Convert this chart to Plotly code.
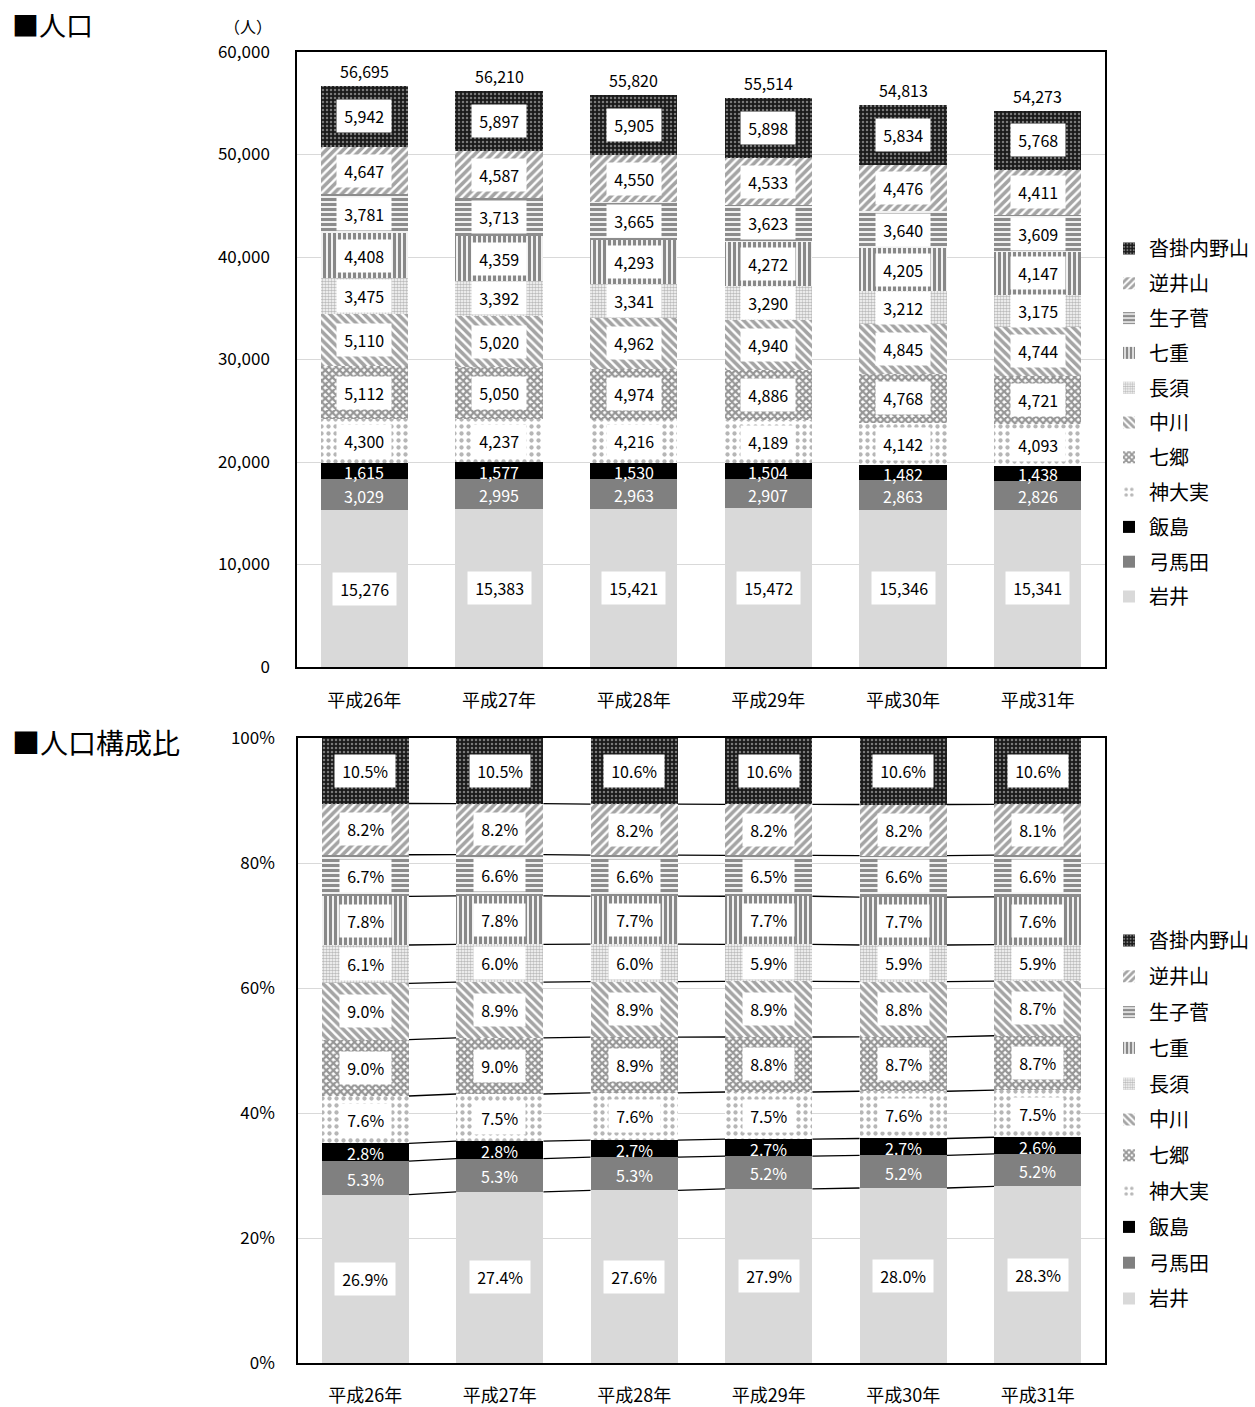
import plotly.graph_objects as go

# ---- data -------------------------------------------------------------
years = ["平成26年", "平成27年", "平成28年", "平成29年", "平成30年", "平成31年"]
districts = ["岩井", "弓馬田", "飯島", "神大実", "七郷", "中川", "長須", "七重", "生子菅", "逆井山", "沓掛内野山"]

iwai = [15276, 15383, 15421, 15472, 15346, 15341]
yumata = [3029, 2995, 2963, 2907, 2863, 2826]
iijima = [1615, 1577, 1530, 1504, 1482, 1438]
kamiomi = [4300, 4237, 4216, 4189, 4142, 4093]
nanasato = [5112, 5050, 4974, 4886, 4768, 4721]
nakagawa = [5110, 5020, 4962, 4940, 4845, 4744]
nagasu = [3475, 3392, 3341, 3290, 3212, 3175]
nanae = [4408, 4359, 4293, 4272, 4205, 4147]
namasuga = [3781, 3713, 3665, 3623, 3640, 3609]
sakasaiyama = [4647, 4587, 4550, 4533, 4476, 4411]
kutsukake = [5942, 5897, 5905, 5898, 5834, 5768]

series = [iwai, yumata, iijima, kamiomi, nanasato, nakagawa,
          nagasu, nanae, namasuga, sakasaiyama, kutsukake]

# ---- styling ----------------------------------------------------------
FONT = "Noto Sans CJK JP"
styles = [
    dict(color="#d9d9d9"),
    dict(color="#808080"),
    dict(color="#000000"),
    dict(color="white", pattern=dict(shape=".", fgcolor="#6e6e6e", bgcolor="white", size=7, solidity=0.3)),
    dict(color="white", pattern=dict(shape="x", fgcolor="#2e2e2e", bgcolor="white", size=5, solidity=0.7)),
    dict(color="white", pattern=dict(shape="\\", fgcolor="#4a4a4a", bgcolor="white", size=6, solidity=0.6)),
    dict(color="white", pattern=dict(shape=".", fgcolor="#7a7a7a", bgcolor="white", size=3, solidity=0.6)),
    dict(color="white", pattern=dict(shape="|", fgcolor="#111111", bgcolor="white", size=5, solidity=0.65)),
    dict(color="white", pattern=dict(shape="-", fgcolor="#1a1a1a", bgcolor="white", size=5, solidity=0.65)),
    dict(color="white", pattern=dict(shape="/", fgcolor="#4a4a4a", bgcolor="white", size=6, solidity=0.6)),
    dict(color="#1a1a1a", pattern=dict(shape=".", fgcolor="#d8d8d8", bgcolor="#1a1a1a", size=4, solidity=0.3)),
]
solid_dark = {1, 2}  # labels drawn in white without a box
PAD = "\u2009"

xs = list(range(len(years)))
BAR_W = 0.65
totals = [sum(s[i] for s in series) for i in xs]
shares = [[s[i] / totals[i] * 100 for i in xs] for s in series]

fig = go.Figure()
annotations = []

def add_stack(values_list, xaxis, yaxis, legend, fmt):
    cum = [0.0] * len(xs)
    bases = []
    for k, (name, vals) in enumerate(zip(districts, values_list)):
        fig.add_trace(go.Bar(
            x=xs, y=vals, name=name, width=BAR_W,
            marker=dict(line=dict(width=0), **styles[k]),
            xaxis=xaxis, yaxis=yaxis, legend=legend, legendgroup=f"{legend}-{k}",
            legendrank=100 - k, hoverinfo="skip",
        ))
        bases.append(list(cum))
        for i in xs:
            mid = cum[i] + vals[i] / 2
            txt = fmt(vals[i])
            if k in solid_dark:
                annotations.append(dict(
                    x=i, y=mid, xref=xaxis, yref=yaxis, text=txt, showarrow=False,
                    yshift=-1, font=dict(family=FONT, size=16, color="white")))
            else:
                annotations.append(dict(
                    x=i, y=mid, xref=xaxis, yref=yaxis, text=PAD + txt + PAD, showarrow=False,
                    font=dict(family=FONT, size=16, color="black"),
                    bgcolor="white", borderpad=4))
            cum[i] += vals[i]
    return bases, cum

# population (absolute)
add_stack(series, "x", "y", "legend", lambda v: f"{v:,}")
for i in xs:
    annotations.append(dict(
        x=i, y=totals[i], xref="x", yref="y", text=f"{totals[i]:,}", showarrow=False,
        yanchor="bottom", yshift=1, font=dict(family=FONT, size=16, color="black")))

# composition (share)
bases, _ = add_stack(shares, "x2", "y2", "legend2", lambda v: f"{v:.1f}%")

# series lines joining segment boundaries of neighbouring bars
lx, ly = [], []
for k in range(1, len(series)):
    for i in range(len(xs) - 1):
        lx += [i + BAR_W / 2, i + 1 - BAR_W / 2, None]
        ly += [bases[k][i], bases[k][i + 1], None]
fig.add_trace(go.Scatter(
    x=lx, y=ly, mode="lines", line=dict(color="black", width=1.3),
    xaxis="x2", yaxis="y2", showlegend=False, hoverinfo="skip"))

W, H = 1255, 1407
ML, MR, MT, MB = 297, 150, 52, 44
PH = H - MT - MB
PW = W - ML - MR

def py(p):
    return (H - MB - p) / PH

def px(p):
    return (p - ML) / PW

# headings
annotations += [
    dict(x=px(10), y=py(25), xref="paper", yref="paper", text="■人口", showarrow=False,
         xanchor="left", yanchor="middle", font=dict(family=FONT, size=27, color="black")),
    dict(x=px(10), y=py(742), xref="paper", yref="paper", text="■人口構成比", showarrow=False,
         xanchor="left", yanchor="middle", font=dict(family=FONT, size=28, color="black")),
    dict(x=px(248), y=py(26), xref="paper", yref="paper", text="（人）", showarrow=False,
         xanchor="center", yanchor="middle", font=dict(family=FONT, size=16, color="black")),
]

axis_common = dict(showline=True, linecolor="black", linewidth=1.5, mirror=True,
                   automargin=False, ticks="",
                   tickfont=dict(family=FONT, size=17, color="black"))
xfont = dict(family=FONT, size=18, color="black")

fig.update_layout(
    width=W, height=H,
    margin=dict(l=ML, r=MR, t=MT, b=MB, autoexpand=False),
    paper_bgcolor="white", plot_bgcolor="white",
    barmode="stack",
    font=dict(family=FONT, color="black"),
    xaxis=dict(domain=[0, 1], range=[-0.5, 5.5], tickvals=xs, ticktext=years,
               anchor="y", ticklabelstandoff=17, **{**axis_common, "tickfont": xfont}),
    yaxis=dict(domain=[py(667), 1], range=[0, 60000], dtick=10000, tickformat=",",
               showgrid=True, gridcolor="#d9d9d9", gridwidth=1, anchor="x",
               ticklabelstandoff=22, **axis_common),
    xaxis2=dict(domain=[px(298), px(1105)], range=[-0.5, 5.5], tickvals=xs, ticktext=years,
                anchor="y2", ticklabelstandoff=16, **{**axis_common, "tickfont": xfont}),
    yaxis2=dict(domain=[0, py(738)], range=[0, 100], dtick=20, ticksuffix="%",
                showgrid=True, gridcolor="#d9d9d9", gridwidth=1, anchor="x2",
                ticklabelstandoff=18, **axis_common),
    legend=dict(x=px(1109), y=py(229), xanchor="left", yanchor="top",
                traceorder="grouped", tracegroupgap=5.8,
                font=dict(family=FONT, size=20, color="black"), bgcolor="rgba(0,0,0,0)"),
    legend2=dict(x=px(1109), y=py(921), xanchor="left", yanchor="top",
                 traceorder="grouped", tracegroupgap=6.8,
                 font=dict(family=FONT, size=20, color="black"), bgcolor="rgba(0,0,0,0)"),
    annotations=annotations,
    bargap=0.35,
)

fig.write_html("out.html")
